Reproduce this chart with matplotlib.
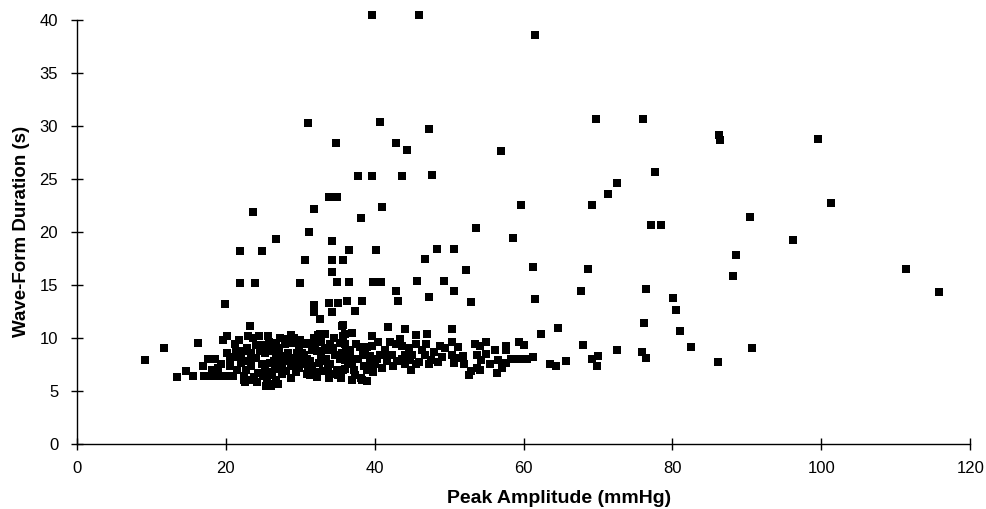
import matplotlib
matplotlib.use("Agg")
import matplotlib.pyplot as plt

# Sparse / outlying points (Peak Amplitude mmHg, Wave-Form Duration s)
amp_sparse = [9.2, 11.7, 13.4, 14.6, 15.6, 16.2, 19.9, 21.9, 21.9, 23.7, 23.9, 24.9, 26.8, 29.9,
              30.6, 31.2, 31.1, 31.8, 33.9, 34.9, 31.8, 31.9, 32.7, 34.2, 36.6, 34.2, 35.8, 34.3,
              34.9, 36.6, 33.8, 35.0, 36.3, 34.2, 37.4, 38.3, 35.7,
              39.7, 45.9, 61.5, 40.7, 47.3, 34.8, 42.8, 44.4, 56.9, 37.8, 39.7, 43.7, 47.7, 41.0,
              59.6, 38.1, 53.6, 58.6, 40.2, 48.3, 50.6, 46.7, 52.2, 61.2, 39.8, 40.8, 45.7, 49.3,
              42.8, 43.1, 50.7, 47.3, 53.0, 61.5,
              69.7, 76.1, 86.2, 86.4, 99.5, 77.6, 72.5, 71.4, 69.2, 101.3, 90.4, 77.1, 78.4, 96.2,
              88.6, 68.6, 111.4, 88.1, 67.7, 76.4, 115.8, 80.1, 80.5, 76.2, 81.0, 64.6, 62.3, 68.0,
              82.5, 90.7, 72.5, 59.4, 60.1, 57.6, 57.7, 75.9, 76.5, 86.1, 69.2, 70.0, 69.8, 65.7,
              63.6, 64.4, 59.4, 60.4, 61.3, 57.1, 57.7]
dur_sparse = [7.9, 9.0, 6.3, 6.9, 6.4, 9.5, 13.2, 18.2, 15.2, 21.9, 15.2, 18.2, 19.3, 15.2,
              17.3, 20.0, 30.3, 22.2, 23.3, 23.3, 13.1, 12.4, 11.8, 19.1, 18.3, 17.3, 17.3, 16.2,
              15.3, 15.3, 13.3, 13.3, 13.5, 12.4, 12.5, 13.5, 11.2,
              40.5, 40.5, 38.6, 30.4, 29.7, 28.4, 28.4, 27.7, 27.6, 25.3, 25.3, 25.3, 25.4, 22.3,
              22.5, 21.3, 20.4, 19.4, 18.3, 18.4, 18.4, 17.4, 16.4, 16.7, 15.3, 15.3, 15.4, 15.4,
              14.4, 13.5, 14.4, 13.9, 13.4, 13.7,
              30.6, 30.6, 29.1, 28.7, 28.8, 25.6, 24.6, 23.6, 22.5, 22.7, 21.4, 20.6, 20.6, 19.2,
              17.8, 16.5, 16.5, 15.8, 14.4, 14.6, 14.3, 13.8, 12.6, 11.4, 10.6, 10.9, 10.4, 9.3,
              9.1, 9.0, 8.9, 9.6, 9.3, 9.2, 8.9, 8.7, 8.1, 7.7, 8.0, 8.3, 7.3, 7.8,
              7.5, 7.3, 8.0, 8.0, 8.2, 7.2, 7.6]

# Dense cluster of points
amp_cluster = [16.9, 17.6, 18.5, 17.0, 17.9, 18.8, 19.7, 18.2, 19.3, 19.6, 20.1, 20.1, 20.6, 20.1, 20.9, 19.0,
               21.2, 21.4, 22.1, 22.7, 22.6, 23.3, 23.0, 23.6, 24.0, 23.4, 24.0, 23.4, 24.3, 23.2, 22.0,
               21.5, 22.8, 24.5, 24.8, 22.4, 23.8, 21.0, 22.5,
               25.7, 25.3, 25.9, 25.3, 25.5, 26.3, 25.4, 26.0, 26.7, 27.1, 26.7, 27.6, 27.1, 28.0, 28.7,
               28.9, 28.4, 29.1, 28.7, 28.7, 29.8, 26.2, 27.5, 26.0, 27.8, 29.4, 29.8, 25.0, 26.5, 28.1,
               26.8, 29.2, 27.3,
               30.2, 30.2, 29.8, 30.9, 31.6, 30.9, 31.6, 30.9, 32.2, 32.4, 32.8, 33.7, 32.8, 33.7, 35.6,
               36.0, 35.3, 36.2, 35.3, 36.0, 32.7, 33.3, 35.7, 30.6, 31.3, 32.0, 30.5, 31.3, 30.4, 31.3,
               32.0, 31.3, 33.3, 34.0, 33.5, 34.0, 34.7, 34.9, 34.0, 32.5, 33.0, 35.0, 36.7, 34.5,
               36.0, 36.7, 36.0, 36.9, 35.8, 37.4, 38.3, 38.9, 38.1, 37.5, 38.0, 38.7, 39.0, 39.3, 40.0,
               39.4, 40.7, 41.4, 41.6, 42.3, 42.8, 41.8, 37.0, 39.7, 40.5, 38.5, 37.2, 39.8, 41.0,
               43.4, 44.1, 44.1, 44.8, 44.1, 44.9, 45.6, 45.6, 46.3, 46.9, 46.8, 47.5, 48.0, 47.3, 48.8,
               49.5, 45.5, 43.0, 42.5, 46.0, 48.5, 49.0, 47.0, 43.7,
               50.4, 50.4, 50.4, 50.9, 51.8, 50.6, 53.5, 54.2, 54.9, 53.8, 54.3, 53.8, 52.9, 52.6, 54.2,
               56.2, 56.6, 56.4, 51.2, 52.0, 55.5, 55.0, 58.3,
               20.5, 21.8, 22.3, 23.0, 24.6, 25.8, 26.4, 27.9, 28.3, 29.5, 30.0, 31.8, 32.3, 33.1,
               34.4, 35.6, 36.4, 37.8, 38.4, 39.6, 40.3, 41.2, 42.0, 43.6, 44.6, 45.0, 24.2, 25.0,
               26.6, 29.0, 31.0, 33.8, 35.5, 37.0, 39.0, 27.0, 26.0]
dur_cluster = [7.3, 8.0, 8.0, 6.4, 6.4, 6.4, 6.4, 7.0, 7.5, 9.8, 10.2, 8.6, 7.3, 6.4, 6.4, 7.2,
               9.4, 8.8, 7.6, 7.0, 5.8, 11.1, 10.2, 10.0, 9.3, 8.6, 8.1, 7.3, 6.7, 6.0, 8.3,
               7.0, 9.0, 10.2, 7.5, 6.4, 6.3, 8.2, 6.0,
               10.2, 8.6, 7.6, 7.0, 6.1, 5.6, 5.5, 5.5, 9.5, 9.0, 8.3, 7.6, 7.1, 9.9, 10.3,
               9.5, 8.6, 8.1, 7.3, 6.2, 9.1, 6.5, 6.6, 9.0, 8.3, 6.8, 7.9, 9.3, 7.8, 6.9,
               6.0, 10.0, 10.0,
               8.6, 8.0, 7.2, 9.4, 8.9, 8.0, 7.3, 6.6, 6.3, 10.3, 9.6, 8.9, 8.3, 7.3, 11.1,
               10.4, 9.5, 8.9, 8.0, 7.1, 10.4, 10.4, 10.2, 9.5, 9.5, 9.4, 8.4, 7.8, 7.5, 7.1,
               6.8, 6.5, 9.0, 9.4, 8.0, 7.5, 8.4, 7.0, 6.6, 7.6, 6.9, 6.5, 8.2, 10.0,
               9.4, 8.9, 7.9, 7.5, 7.0, 6.5, 6.0, 5.9, 6.2, 9.4, 9.1, 8.4, 9.1, 8.3, 7.5,
               7.6, 8.4, 8.9, 7.8, 8.4, 9.4, 11.0, 10.5, 10.2, 9.6, 7.3, 7.0, 6.8, 7.2,
               9.9, 10.8, 8.4, 7.9, 7.5, 7.0, 10.3, 9.4, 8.9, 9.4, 8.4, 7.9, 8.7, 7.5, 9.2,
               9.0, 7.5, 7.8, 7.3, 7.7, 7.7, 8.2, 10.4, 9.2,
               10.8, 9.6, 8.4, 8.1, 8.3, 7.6, 9.4, 9.2, 9.6, 8.4, 7.9, 7.2, 6.9, 6.5, 7.0,
               8.9, 7.9, 6.7, 9.1, 7.5, 7.5, 8.5, 8.0,
               8.0, 9.8, 8.8, 7.8, 8.8, 9.6, 8.8, 9.4, 7.8, 8.6, 9.8, 10.0, 8.8, 7.8,
               9.0, 8.6, 7.5, 8.0, 8.8, 9.2, 8.0, 8.4, 9.6, 8.0, 9.0, 8.4, 5.8, 6.4,
               7.2, 7.6, 7.0, 6.2, 6.2, 6.0, 7.0, 5.6, 6.8]

x_ticks = [0, 20, 40, 60, 80, 100, 120]
y_ticks = [0, 5, 10, 15, 20, 25, 30, 35, 40]

plt.rcParams['font.family'] = ['Liberation Sans', 'DejaVu Sans']

fig = plt.figure(figsize=(9.87, 5.09), dpi=100)
ax = fig.add_axes([0.078, 0.128, 0.905, 0.833])

ax.scatter(amp_cluster + amp_sparse, dur_cluster + dur_sparse, marker='s', s=38,
           color='black', linewidths=0, clip_on=False, zorder=3)

ax.set_xlim(0, 120)
ax.set_ylim(0, 40)
ax.set_xticks(x_ticks)
ax.set_yticks(y_ticks)
ax.spines['top'].set_visible(False)
ax.spines['right'].set_visible(False)
for sp in ('left', 'bottom'):
    ax.spines[sp].set_linewidth(1.0)
    ax.spines[sp].set_color('black')
ax.tick_params(axis='both', direction='inout', length=9, width=1.0, labelsize=12,
               colors='black')
ax.tick_params(axis='x', pad=8)
ax.tick_params(axis='y', pad=9)

ax.set_xlabel('Peak Amplitude (mmHg)', fontsize=14, fontweight='bold', labelpad=10, x=0.54)
ax.set_ylabel('Wave-Form Duration (s)', fontsize=13.5, fontweight='bold', labelpad=7)

fig.savefig('out.png', dpi=100)
